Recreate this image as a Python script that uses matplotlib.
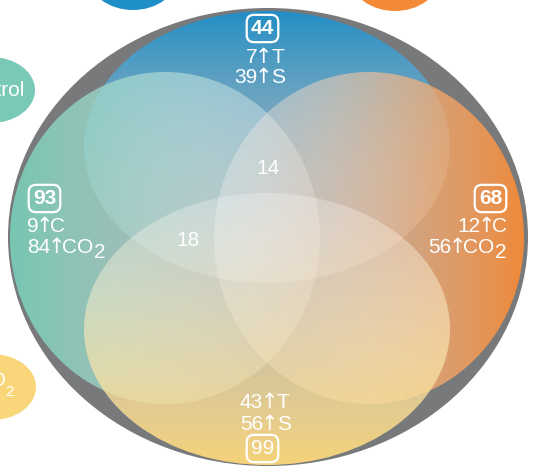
import numpy as np
import matplotlib
matplotlib.use("Agg")
import matplotlib.pyplot as plt
from matplotlib.patches import Ellipse
from matplotlib.colors import to_rgb

plt.rcParams['font.family'] = ['Liberation Sans', 'DejaVu Sans']

# ---- data ----
set_totals = {"top": 44, "left": 93, "right": 68, "bottom": 99}
top_lines = [("7", "T"), ("39", "S")]
left_lines = [("9", "C"), ("84", "CO")]
right_lines = [("12", "C"), ("56", "CO")]
bottom_lines = [("43", "T"), ("56", "S")]
inner_counts = [14, 18]
satellite_labels = ["Control", "eCO"]

W, H = 534, 470
fig = plt.figure(figsize=(W / 100, H / 100), dpi=100)
ax = fig.add_axes([0, 0, 1, 1])
ax.set_xlim(0, W)
ax.set_ylim(H, 0)
ax.axis('off')

grey = '#78797b'
blue = '#1f8fc8'
teal = '#78c9b5'
orange = '#f38a38'
yellow = '#fad67a'

for (cx, cy, c) in [(133, -23, blue), (395, -22, orange), (-9, 90, teal), (-8, 387, yellow)]:
    ax.add_patch(Ellipse((cx, cy), 88, 66, facecolor=c, edgecolor='none', zorder=1))

ax.add_patch(Ellipse((268, 237), 520, 458, facecolor=grey, edgecolor='none', zorder=2))


def grad_ellipse(cx, cy, w, h, color, direction, a0=0.97, a1=0.26, z=3):
    n = 256
    t = np.linspace(0, 1, n)
    c0 = np.array(to_rgb(color))
    c1 = np.array([1.0, 1.0, 1.0])
    cols = c0[None, :] * (1 - t[:, None]) + c1[None, :] * t[:, None]
    alph = a0 * (1 - t) + a1 * t
    rgba = np.concatenate([cols, alph[:, None]], axis=1)
    if direction == 'down':
        img = rgba[:, None, :]
    elif direction == 'up':
        img = rgba[::-1][:, None, :]
    elif direction == 'right':
        img = rgba[None, :, :]
    else:
        img = rgba[::-1][None, :, :]
    e = Ellipse((cx, cy), w, h, facecolor='none', edgecolor='none', transform=ax.transData)
    ax.add_patch(e)
    im = ax.imshow(img, extent=(cx - w / 2, cx + w / 2, cy + h / 2, cy - h / 2),
                   origin='upper', interpolation='bilinear', aspect='auto', zorder=z)
    im.set_clip_path(e)


grad_ellipse(267, 147, 366, 272, blue, 'down', z=3)
grad_ellipse(165, 238, 310, 332, teal, 'right', z=4)
grad_ellipse(369, 238, 310, 332, orange, 'left', z=5)
grad_ellipse(267, 329, 366, 272, yellow, 'up', z=6)

ax.set_xlim(0, W)
ax.set_ylim(H, 0)

fs = 15
TXT = dict(color='white', fontsize=fs, zorder=10)
ARW = dict(color='white', fontsize=fs, zorder=10, family=['DejaVu Sans'])
box = dict(boxstyle='round,pad=0.2,rounding_size=0.35', fc='none', ec='white', lw=1.6)

renderer = fig.canvas.get_renderer()


def compose(x, y, parts, ha, anchor_idx=None):
    """parts: (string, kwargs, gap_before, dy)"""
    texts = [ax.text(0, y + dy, s, ha='left', va='baseline', **kw) for s, kw, g, dy in parts]
    widths = [t.get_window_extent(renderer).width for t in texts]
    total = sum(widths) + sum(p[2] for p in parts)
    if ha == 'left':
        cur = x
    elif ha == 'right':
        cur = x - total
    elif ha == 'center':
        cur = x - total / 2
    else:  # centre of part anchor_idx at x
        before = sum(widths[:anchor_idx]) + sum(p[2] for p in parts[:anchor_idx + 1])
        cur = x - before - widths[anchor_idx] / 2
    for t, w, p in zip(texts, widths, parts):
        cur += p[2]
        t.set_x(cur)
        cur += w


def arrow_line(x, y, num, let, ha, sub=False, gap=-3):
    parts = [(num, TXT, 0, 0), ("\u2191", ARW, -3, 0), (let, TXT, gap, 0)]
    if sub:
        parts.append(("2", TXT, 1, 5))
    compose(x, y, parts, ha, anchor_idx=1)


# totals in boxes
ax.text(262.5, 28.5, str(set_totals["top"]), ha='center', va='center', fontweight='bold', bbox=box, **TXT)
ax.text(44.5, 198.5, str(set_totals["left"]), ha='center', va='center', fontweight='bold', bbox=box, **TXT)
ax.text(490.5, 198.5, str(set_totals["right"]), ha='center', va='center', fontweight='bold', bbox=box, **TXT)
ax.text(262.5, 448.5, str(set_totals["bottom"]), ha='center', va='center', bbox=box, **TXT)

for (num, let), y in zip(top_lines, [63, 83]):
    arrow_line(263.5, y, num, let, 'arrow', gap=-1)
for (num, let), y in zip(bottom_lines, [408, 430]):
    arrow_line(269, y, num, let, 'arrow', gap=-1)
for (num, let), y, s in zip(left_lines, [232, 253], [False, True]):
    arrow_line(27, y, num, let, 'left', sub=s)
for (num, let), y, s in zip(right_lines, [232, 253], [False, True]):
    arrow_line(507, y, num, let, 'right', sub=s)

ax.text(268, 169, str(inner_counts[0]), ha='center', va='center', **TXT)
ax.text(188.5, 240, str(inner_counts[1]), ha='center', va='center', **TXT)

ax.text(-9, 90, satellite_labels[0], ha='center', va='center', **TXT)
ax.text(6, 380, satellite_labels[1], ha='right', va='center', **TXT)
ax.text(5, 392, "2", ha='left', va='center', color='white', fontsize=11, zorder=10)

fig.savefig('out.png', dpi=100)
